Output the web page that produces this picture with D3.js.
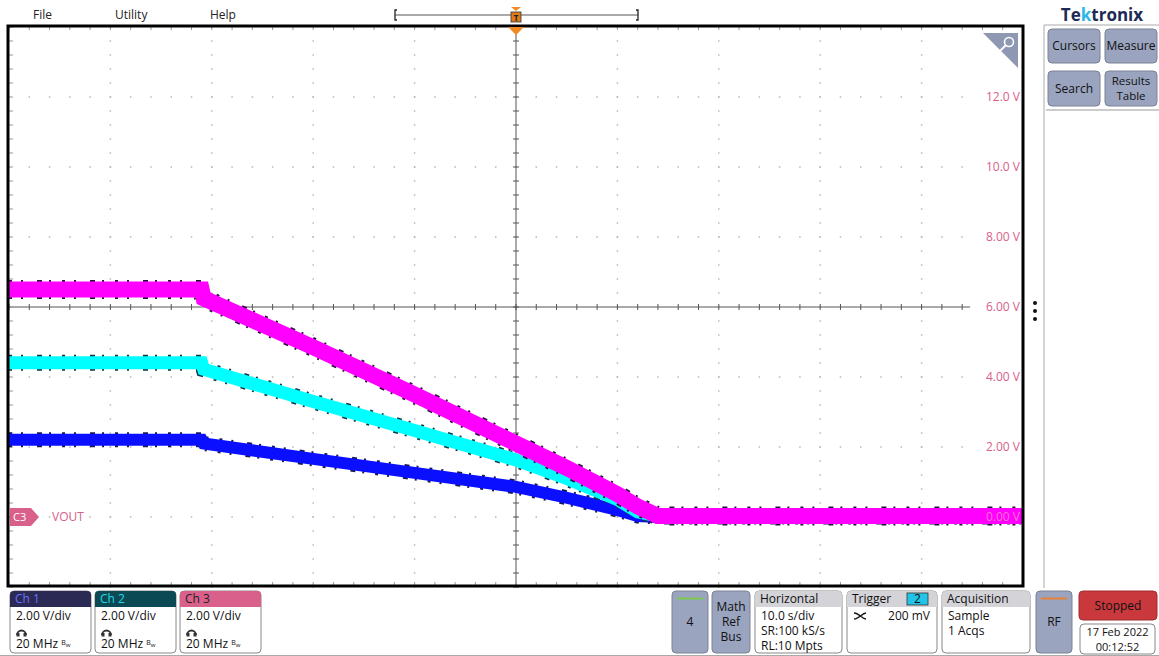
<!DOCTYPE html>
<html>
<head>
<meta charset="utf-8">
<script src="https://cdn.jsdelivr.net/npm/d3@7"></script>
<style>
  html, body { margin: 0; padding: 0; background: #fff; }
  svg { display: block; font-family: "Open Sans", "Noto Sans", sans-serif; }
</style>
</head>
<body>
<svg id="scope" width="1159" height="656"></svg>
<script>
// Acquisition record: time (s, relative to trigger) and channel voltages (V)
const timeS = [-50, -31, -30.8, -20, -10, 0, 5, 10, 12, 14, 50];
const ch1V  = [2.21, 2.21, 2.1, 1.66, 1.26, 0.86, 0.55, 0.2, 0.03, 0.0, 0.0];
const ch2V  = [4.41, 4.41, 4.22, 3.3, 2.47, 1.63, 1.1, 0.5, 0.15, 0.03, 0.03];
const ch3V  = [6.5, 6.5, 6.25, 4.85, 3.5, 2.1, 1.4, 0.65, 0.3, 0.03, 0.03];

// Graticule labels (Ch3 scale)
const voltTicks  = [12, 10, 8, 6, 4, 2, 0];
const voltLabels = ["12.0 V", "10.0 V", "8.00 V", "6.00 V", "4.00 V", "2.00 V", "0.00 V"];

// Menu and status text
const menuItems = ["File", "Utility", "Help"];
const channelBadges = [
  { name: "Ch 1", scale: "2.00 V/div", bw: "20 MHz" },
  { name: "Ch 2", scale: "2.00 V/div", bw: "20 MHz" },
  { name: "Ch 3", scale: "2.00 V/div", bw: "20 MHz" }
];
const horizontalInfo = ["10.0 s/div", "SR:100 kS/s", "RL:10 Mpts"];
const acquisitionInfo = ["Sample", "1 Acqs"];
const dateInfo = ["17 Feb 2022", "00:12:52"];

const svg = d3.select("#scope");
const P = { left: 9, top: 26, right: 1023, bottom: 586 };

const x = d3.scaleLinear().domain([-50, 50]).range([P.left, P.right]);
const y = d3.scaleLinear().domain([-2, 14]).range([P.bottom + 1, P.top + 1]);

// ---------- graticule ----------
const grid = svg.append("g");
const majorX = d3.range(-50, 50.01, 10);
const minorX = d3.range(-50, 50.01, 2);
const majorY = d3.range(-2, 14.01, 2);
const minorY = d3.range(-2, 14.01, 0.4);

// dotted grid: a dot at every minor position along each major line
majorX.slice(1, -1).forEach(t => {
  if (t === 0) return;
  minorY.forEach(v => grid.append("rect")
    .attr("x", x(t) - 0.75).attr("y", y(v) - 0.75).attr("width", 1.5).attr("height", 1.5)
    .attr("fill", "#b8b8b8"));
});
majorY.slice(1, -1).forEach(v => {
  if (v === 6) return;
  minorX.filter(t => x(t) < 980).forEach(t => grid.append("rect")
    .attr("x", x(t) - 0.75).attr("y", y(v) - 0.75).attr("width", 1.5).attr("height", 1.5)
    .attr("fill", "#b8b8b8"));
});

// centre crosshair with minor ticks
grid.append("line").attr("x1", x(0)).attr("x2", x(0)).attr("y1", P.top).attr("y2", P.bottom)
  .attr("stroke", "#555").attr("stroke-width", 1);
grid.append("line").attr("x1", P.left).attr("x2", 970).attr("y1", y(6)).attr("y2", y(6))
  .attr("stroke", "#555").attr("stroke-width", 1);
minorY.forEach(v => grid.append("line")
  .attr("x1", x(0) - 3).attr("x2", x(0) + 3).attr("y1", y(v)).attr("y2", y(v))
  .attr("stroke", "#555"));
minorX.filter(t => x(t) < 970).forEach(t => grid.append("line")
  .attr("x1", x(t)).attr("x2", x(t)).attr("y1", y(6) - 3).attr("y2", y(6) + 3)
  .attr("stroke", "#555"));
// edge ticks along the frame
minorX.forEach(t => {
  grid.append("line").attr("x1", x(t)).attr("x2", x(t)).attr("y1", P.top).attr("y2", P.top + 4).attr("stroke", "#999");
  grid.append("line").attr("x1", x(t)).attr("x2", x(t)).attr("y1", P.bottom - 4).attr("y2", P.bottom).attr("stroke", "#999");
});
minorY.forEach(v => {
  grid.append("line").attr("x1", P.left).attr("x2", P.left + 4).attr("y1", y(v)).attr("y2", y(v)).attr("stroke", "#999");
});

// volt labels
const labels = svg.append("g");
voltTicks.forEach((v, i) => {
  labels.append("text").attr("x", 1020).attr("y", y(v) + 4)
    .attr("text-anchor", "end").attr("font-size", 12).attr("fill", "#d9608a")
    .text(voltLabels[i]);
});

// ---------- waveforms ----------
const traces = svg.append("g");
const line = d3.line().x((d, i) => x(timeS[i])).y(d => y(d));
const series = [
  { v: ch1V, color: "#0a10ff", edge: "#1a1a50", w: 12 },
  { v: ch2V, color: "#00ffff", edge: "#0b3b4a", w: 13 },
  { v: ch3V, color: "#ff00ff", edge: "#2a1040", w: 16 }
];
series.forEach(s => {
  // sparse dark sample speckle along the envelope edges
  traces.append("path").attr("d", line(s.v)).attr("fill", "none")
    .attr("stroke", s.edge).attr("stroke-width", s.w + 3)
    .attr("stroke-dasharray", "3 9 2 14 5 7 2 11");
  traces.append("path").attr("d", line(s.v)).attr("fill", "none")
    .attr("stroke", s.color).attr("stroke-width", s.w)
    .attr("stroke-linejoin", "miter");
});
// zero label shows faintly over the trace
labels.raise();
labels.selectAll("text").filter((d, i) => i === voltTicks.length - 1).attr("fill", "#ff70d0");

// ---------- frame ----------
svg.append("rect").attr("x", P.left - 1).attr("y", P.top).attr("width", P.right - P.left + 1)
  .attr("height", P.bottom - P.top).attr("fill", "none").attr("stroke", "#000").attr("stroke-width", 3);

// zoom icon in corner
svg.append("path").attr("d", `M${983},${P.top + 7}L${P.right - 5},${P.top + 7}L${P.right - 5},${P.top + 42}Z`)
  .attr("fill", "#8e98b2");
svg.append("circle").attr("cx", 1009).attr("cy", 42).attr("r", 4.5)
  .attr("fill", "none").attr("stroke", "#fff").attr("stroke-width", 1.6);
svg.append("line").attr("x1", 1005.5).attr("y1", 45.5).attr("x2", 999).attr("y2", 52)
  .attr("stroke", "#fff").attr("stroke-width", 1.8);

// C3 reference marker
svg.append("path").attr("d", `M${P.left + 1},${y(0) - 9}L${31},${y(0) - 9}L${39},${y(0)}L${31},${y(0) + 9}L${P.left + 1},${y(0) + 9}Z`)
  .attr("fill", "#d9608a");
svg.append("text").attr("x", 13).attr("y", y(0) + 4).attr("font-size", 11).attr("fill", "#fff").text("C3");
svg.append("text").attr("x", 52).attr("y", y(0) + 4).attr("font-size", 12).attr("fill", "#d9608a").text("VOUT");

// ---------- top menu & timeline ----------
const menuX = [33, 115, 210];
menuItems.forEach((m, i) => svg.append("text").attr("x", menuX[i]).attr("y", 19)
  .attr("font-size", 12).attr("fill", "#222").text(m));

svg.append("line").attr("x1", 395).attr("x2", 638).attr("y1", 15).attr("y2", 15).attr("stroke", "#555");
svg.append("path").attr("d", "M397,10L395,10L395,20L397,20").attr("fill", "none").attr("stroke", "#222").attr("stroke-width", 1.3);
svg.append("path").attr("d", "M636,10L638,10L638,20L636,20").attr("fill", "none").attr("stroke", "#222").attr("stroke-width", 1.3);
svg.append("path").attr("d", "M511,7L521,7L516,11Z").attr("fill", "#f08a24");
svg.append("rect").attr("x", 511).attr("y", 12).attr("width", 10).attr("height", 10).attr("fill", "#e07a1a").attr("stroke", "#333").attr("stroke-width", 0.8);
svg.append("text").attr("x", 516).attr("y", 20.5).attr("text-anchor", "middle").attr("font-size", 8).attr("font-weight", "bold").attr("fill", "#222").text("T");
svg.append("path").attr("d", `M508,${P.top + 1}L524,${P.top + 1}L516,${P.top + 9}Z`).attr("fill", "#f08a24");

// ---------- right side panel ----------
svg.append("text").attr("x", 1102).attr("y", 21).attr("text-anchor", "middle")
  .attr("font-size", 17).attr("font-weight", "bold").attr("fill", "#1c2a55")
  .html('Te<tspan fill="#2ab8e6">k</tspan>tronix');
svg.append("path").attr("d", "M1044,588L1044,25L1159,25").attr("fill", "none").attr("stroke", "#aaa");
svg.append("line").attr("x1", 1046).attr("x2", 1159).attr("y1", 110).attr("y2", 110).attr("stroke", "#ccc").attr("stroke-width", 2);
[303, 311, 319].forEach(cy => svg.append("circle").attr("cx", 1035).attr("cy", cy).attr("r", 2).attr("fill", "#111"));

const btn = (bx, by, bw, bh, lines) => {
  svg.append("rect").attr("x", bx).attr("y", by).attr("width", bw).attr("height", bh).attr("rx", 4)
    .attr("fill", "#9aa4bf").attr("stroke", "#7a8294");
  const n = lines.length;
  const fs = n > 1 ? 11.5 : 12;
  lines.forEach((t, i) => svg.append("text").attr("x", bx + bw / 2)
    .attr("y", by + bh / 2 + 4 + (i - (n - 1) / 2) * 15)
    .attr("text-anchor", "middle").attr("font-size", fs).attr("fill", "#111").text(t));
};
btn(1048, 29, 52, 34, ["Cursors"]);
btn(1105, 29, 52, 34, ["Measure"]);
btn(1048, 71, 52, 35, ["Search"]);
btn(1105, 71, 52, 35, ["Results", "Table"]);

// ---------- bottom status bar ----------
const badgeX = [10, 95, 180];
const badgeHead = ["#2a2a55", "#0b4a55", "#d9608a"];
const badgeHeadText = ["#6e6eff", "#22d8e8", "#222"];
channelBadges.forEach((c, i) => {
  const bx = badgeX[i];
  svg.append("rect").attr("x", bx).attr("y", 591).attr("width", 81).attr("height", 62).attr("rx", 4)
    .attr("fill", "#fff").attr("stroke", "#888");
  svg.append("path").attr("d", `M${bx},607L${bx},595Q${bx},591 ${bx + 4},591L${bx + 77},591Q${bx + 81},591 ${bx + 81},595L${bx + 81},607Z`)
    .attr("fill", badgeHead[i]);
  svg.append("text").attr("x", bx + 5).attr("y", 603).attr("font-size", 12).attr("fill", badgeHeadText[i]).text(c.name);
  svg.append("text").attr("x", bx + 6).attr("y", 620).attr("font-size", 12).attr("fill", "#111").text(c.scale);
  // probe glyph
  svg.append("path").attr("d", `M${bx + 7},635 a4.5,4.5 0 0 1 9,0`).attr("fill", "none").attr("stroke", "#333").attr("stroke-width", 1.8);
  svg.append("rect").attr("x", bx + 6.5).attr("y", 633).attr("width", 3).attr("height", 3.5).attr("fill", "#333");
  svg.append("rect").attr("x", bx + 13.5).attr("y", 633).attr("width", 3).attr("height", 3.5).attr("fill", "#333");
  svg.append("text").attr("x", bx + 6).attr("y", 648).attr("font-size", 12).attr("fill", "#111")
    .html(`${c.bw} <tspan font-size="7" dy="-3">B</tspan><tspan font-size="6" dy="2">w</tspan>`);
});
svg.append("line").attr("x1", 0).attr("x2", 1159).attr("y1", 655.5).attr("y2", 655.5).attr("stroke", "#aaa");

// "4" button with green bar
svg.append("rect").attr("x", 672).attr("y", 591).attr("width", 36).attr("height", 62).attr("rx", 4).attr("fill", "#9aa4bf").attr("stroke", "#7a8294");
svg.append("line").attr("x1", 677).attr("x2", 703).attr("y1", 598.5).attr("y2", 598.5).attr("stroke", "#7cc84a").attr("stroke-width", 2);
svg.append("text").attr("x", 690).attr("y", 626).attr("text-anchor", "middle").attr("font-size", 12).attr("fill", "#111").text("4");
// Math Ref Bus
svg.append("rect").attr("x", 712).attr("y", 591).attr("width", 38).attr("height", 62).attr("rx", 4).attr("fill", "#9aa4bf").attr("stroke", "#7a8294");
["Math", "Ref", "Bus"].forEach((t, i) => svg.append("text").attr("x", 731).attr("y", 611 + i * 15)
  .attr("text-anchor", "middle").attr("font-size", 12).attr("fill", "#111").text(t));

// info boxes with grey header
const infoBox = (bx, bw, title, lines) => {
  svg.append("rect").attr("x", bx).attr("y", 591).attr("width", bw).attr("height", 62).attr("rx", 4).attr("fill", "#fff").attr("stroke", "#888");
  svg.append("path").attr("d", `M${bx},607L${bx},595Q${bx},591 ${bx + 4},591L${bx + bw - 4},591Q${bx + bw},591 ${bx + bw},595L${bx + bw},607Z`).attr("fill", "#d4d4d8");
  svg.append("text").attr("x", bx + 5).attr("y", 603).attr("font-size", 12).attr("fill", "#111").text(title);
  lines.forEach((t, i) => svg.append("text").attr("x", bx + 6).attr("y", 620 + i * 15).attr("font-size", 12).attr("fill", "#111").text(t));
};
infoBox(755, 87, "Horizontal", horizontalInfo);
infoBox(847, 90, "Trigger", []);
svg.append("rect").attr("x", 907).attr("y", 593).attr("width", 21).attr("height", 12).attr("fill", "#22c4e8").attr("stroke", "#333").attr("stroke-width", 0.8);
svg.append("text").attr("x", 917.5).attr("y", 603).attr("text-anchor", "middle").attr("font-size", 12).attr("fill", "#111").text("2");
svg.append("path").attr("d", "M854,613 C859,613 862,619 866,619 M854,619 C859,619 862,613 866,613").attr("fill", "none").attr("stroke", "#111").attr("stroke-width", 1.3);
svg.append("text").attr("x", 930).attr("y", 620).attr("text-anchor", "end").attr("font-size", 12).attr("fill", "#111").text("200 mV");
infoBox(942, 88, "Acquisition", acquisitionInfo);

// RF button
svg.append("rect").attr("x", 1036).attr("y", 591).attr("width", 36).attr("height", 62).attr("rx", 4).attr("fill", "#9aa4bf").attr("stroke", "#7a8294");
svg.append("line").attr("x1", 1041).attr("x2", 1067).attr("y1", 598.5).attr("y2", 598.5).attr("stroke", "#e8803a").attr("stroke-width", 2);
svg.append("text").attr("x", 1054).attr("y", 626).attr("text-anchor", "middle").attr("font-size", 12).attr("fill", "#111").text("RF");

// run state and timestamp
svg.append("rect").attr("x", 1079).attr("y", 591).attr("width", 78).attr("height", 29).attr("rx", 4).attr("fill", "#c8383c").attr("stroke", "#a02a2e");
svg.append("text").attr("x", 1118).attr("y", 610).attr("text-anchor", "middle").attr("font-size", 12).attr("fill", "#111").text("Stopped");
svg.append("rect").attr("x", 1080).attr("y", 624).attr("width", 75).attr("height", 30).attr("rx", 4).attr("fill", "#fff").attr("stroke", "#888");
dateInfo.forEach((t, i) => svg.append("text").attr("x", 1117.5).attr("y", 636 + i * 15)
  .attr("text-anchor", "middle").attr("font-size", 11).attr("fill", "#111").text(t));
</script>
</body>
</html>
